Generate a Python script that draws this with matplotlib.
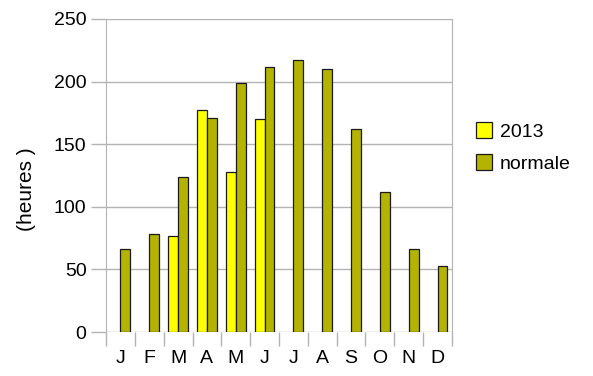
import numpy as np
import matplotlib.pyplot as plt
from matplotlib.ticker import FixedLocator

plt.rcParams['font.family'] = ['Liberation Sans', 'DejaVu Sans']

# monthly sunshine hours
months = ['J', 'F', 'M', 'A', 'M', 'J', 'J', 'A', 'S', 'O', 'N', 'D']
vals_2013 = [0, 0, 77, 177, 128, 170, 0, 0, 0, 0, 0, 0]
vals_normale = [66, 78, 124, 171, 199, 212, 217, 210, 162, 112, 66, 53]

fig = plt.figure(figsize=(5.93, 3.76), dpi=100)
ax = fig.add_axes([0.1788, 0.117, 0.7622 - 0.1788, 0.9495 - 0.117])

x = np.arange(len(months))
w = 0.34
grid_col = '#b3b3b3'

# only draw 2013 bars where there is a value
x13 = [xi for xi, v in zip(x, vals_2013) if v > 0]
v13 = [v for v in vals_2013 if v > 0]
ax.bar(np.array(x13) - w / 2, v13, width=w, color='#ffff00', edgecolor='#1a1a1a',
       linewidth=0.9, label='2013', zorder=3)
ax.bar(x + w / 2, vals_normale, width=w, color='#b3b300', edgecolor='#1a1a1a',
       linewidth=0.9, label='normale', zorder=3)

ax.set_xlim(-0.5, 11.5)
ax.set_ylim(0, 250)
ax.set_yticks(range(0, 251, 50))
ax.set_xticks(x)
ax.set_xticklabels(months)
ax.xaxis.set_minor_locator(FixedLocator(np.arange(-0.5, 12, 1)))
ax.tick_params(axis='x', which='major', length=0, pad=13, labelsize=14)
ax.tick_params(axis='x', which='minor', length=10, color=grid_col, width=1)
ax.tick_params(axis='y', length=11, color=grid_col, width=1, labelsize=14, pad=3)

ax.yaxis.grid(True, color=grid_col, linewidth=1, zorder=0)
for s in ['left', 'right']:
    ax.spines[s].set_color(grid_col)
ax.spines['top'].set_visible(False)
ax.spines['bottom'].set_visible(False)

ax.set_ylabel('(heures )', fontsize=15, labelpad=10)
ax.yaxis.set_label_coords(-0.203, 0.455)

ax.legend(loc='center left', bbox_to_anchor=(1.02, 0.59), frameon=False, fontsize=14,
          handlelength=0.8, handleheight=0.9, handletextpad=0.4, labelspacing=0.7)

fig.savefig('out.png', dpi=100)
